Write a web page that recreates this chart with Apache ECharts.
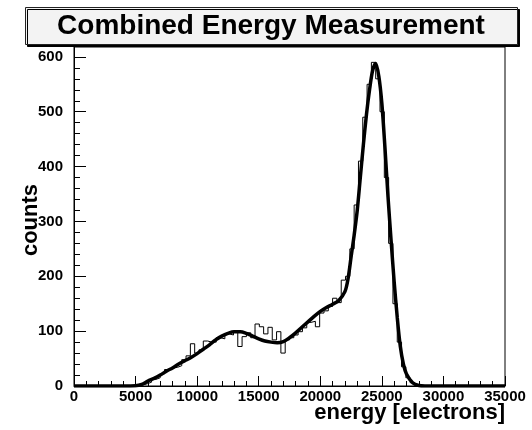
<!DOCTYPE html>
<html>
<head>
<meta charset="utf-8">
<script src="https://cdn.jsdelivr.net/npm/echarts@6/dist/echarts.min.js"></script>
<style>
  html, body { margin: 0; padding: 0; background: #fff; }
  #chart { width: 532px; height: 430px; }
</style>
</head>
<body>
<div id="chart"></div>
<script>
// histogram: 100 bins of 350 electrons from 0 to 35000
const binWidth = 350
const histCounts = [
  0, 0, 0, 0, 0, 0, 0, 0, 0, 0, 0, 0, 0, 0, 1, 2, 4, 7, 12, 15,
  22, 30, 33, 34, 37, 48, 55, 77, 60, 66, 82, 80, 80, 88, 86, 95, 93, 100, 72, 90,
  97, 88, 113, 108, 95, 107, 84, 99, 60, 84, 88, 93, 99, 106, 116, 118, 108, 133, 137, 145,
  160, 152, 193, 200, 250, 330, 410, 490, 550, 590, 560, 500, 380, 260, 150, 80, 35, 15, 6, 2,
  0, 0, 0, 0, 0, 0, 0, 0, 0, 0, 0, 0, 0, 0, 0, 0, 0, 0, 0, 0
]

// fitted curve
const curveEnergy = [
  0, 4000, 5000, 5500, 6000, 6500, 7000, 7500, 8000, 8500, 9000, 9500, 10000, 10500,
  11000, 11500, 12000, 12500, 13000, 13500, 14000, 14500, 15000, 15500, 16000, 16500,
  17000, 17500, 18000, 18500, 19000, 19500, 20000, 20500, 21000, 21500, 22000, 22250,
  22500, 22750, 23000, 23250, 23500, 23750, 24000, 24250, 24500, 24750, 25000, 25250,
  25500, 25750, 26000, 26250, 26500, 26750, 27000, 27500, 28000, 28500, 35000
]
const curveCounts = [
  0, 0, 0.5, 3, 9, 14, 20, 27, 33, 40, 46, 52, 59, 67,
  75, 84, 91, 96, 99, 99, 96, 91, 86, 82, 80, 79,
  81, 88, 97, 107, 117, 127, 136, 143, 149, 156, 172, 195,
  235, 275, 320, 380, 440, 495, 540, 575, 588, 565, 515, 435,
  345, 265, 190, 125, 72, 40, 22, 6, 1, 0, 0
]

const yMajor = [0, 100, 200, 300, 400, 500, 600]
const yMinor = [20, 40, 60, 80, 120, 140, 160, 180, 220, 240, 260, 280, 320, 340, 360, 380,
  420, 440, 460, 480, 520, 540, 560, 580]

const FONT = '"Liberation Sans", Arial, Helvetica, sans-serif'
const labelStyle = { color: '#000', fontFamily: FONT, fontWeight: 'bold', fontSize: 15 }

const histData = histCounts.map((c, i) => [i * binWidth, c])
histData.push([histCounts.length * binWidth, histCounts[histCounts.length - 1]])
const curveData = curveEnergy.map((e, i) => [e, curveCounts[i]])

const chart = echarts.init(document.getElementById('chart'), null, { renderer: 'canvas' })

chart.setOption({
  backgroundColor: '#fff',
  animation: false,
  grid: {
    left: 74, right: 27, top: 47, bottom: 44,
    containLabel: false, outerBoundsMode: 'none',
    show: true, borderColor: '#000', borderWidth: 1, backgroundColor: '#fff',
  },
  graphic: [
    {
      type: 'rect', left: 25, top: 7, z: 100,
      shape: { width: 492, height: 37 },
      style: {
        fill: '#f3f3f3', stroke: '#222', lineWidth: 1,
        shadowColor: '#000', shadowOffsetX: 2, shadowOffsetY: 2, shadowBlur: 0,
      },
    },
    {
      type: 'text', x: 271, y: 26, z: 101,
      style: {
        text: 'Combined Energy Measurement',
        fill: '#000', font: 'bold 28px ' + FONT,
        align: 'center', verticalAlign: 'middle',
      },
    },
    {
      // axis titles placed the way ROOT does
      type: 'text', x: 505, y: 402, z: 101,
      style: {
        text: 'energy [electrons]',
        fill: '#000', font: 'bold 22px ' + FONT,
        align: 'right', verticalAlign: 'top',
      },
    },
    {
      type: 'text', x: 31, y: 220, z: 101, rotation: Math.PI / 2,
      style: {
        text: 'counts',
        fill: '#000', font: 'bold 22px ' + FONT,
        align: 'center', verticalAlign: 'middle',
      },
    },
  ],
  xAxis: {
    type: 'value', min: 0, max: 35000, interval: 5000,
    axisLine: { lineStyle: { color: '#000', width: 1 } },
    axisTick: { inside: true, length: 10, lineStyle: { color: '#000' } },
    minorTick: { show: true, splitNumber: 5, length: 5, lineStyle: { color: '#000' } },
    axisLabel: { ...labelStyle, margin: 3, formatter: (v) => String(v) },
    splitLine: { show: false },
  },
  yAxis: [
    {
      type: 'value', min: 0, max: 618,
      axisLine: { show: true, lineStyle: { color: '#000', width: 1 } },
      axisTick: { show: true, inside: true, length: 12, customValues: yMajor, lineStyle: { color: '#000' } },
      axisLabel: { ...labelStyle, margin: 11, customValues: yMajor, formatter: (v) => String(v) },
      splitLine: { show: false },
    },
    {
      type: 'value', min: 0, max: 618, position: 'left',
      axisLine: { show: false },
      axisTick: { show: true, inside: true, length: 6, customValues: yMinor, lineStyle: { color: '#000' } },
      axisLabel: { show: false },
      splitLine: { show: false },
    },
  ],
  series: [
    {
      type: 'line', data: histData, step: 'end', showSymbol: false,
      lineStyle: { color: '#000', width: 1 }, z: 2,
    },
    {
      type: 'line', data: curveData, smooth: 0.3, showSymbol: false,
      lineStyle: { color: '#000', width: 3.5 }, z: 3,
    },
  ],
})
</script>
</body>
</html>
